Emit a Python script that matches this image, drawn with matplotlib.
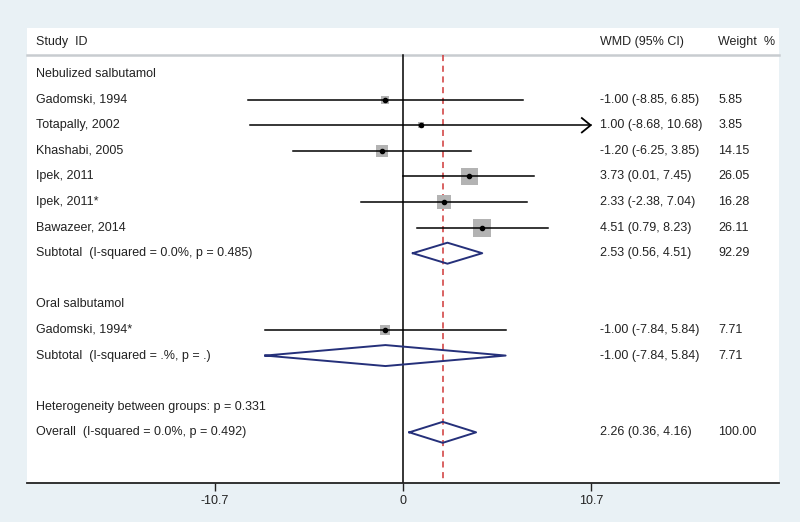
import matplotlib
matplotlib.use("Agg")
import matplotlib.pyplot as plt
from matplotlib.transforms import blended_transform_factory

plt.rcParams['font.family'] = ['Liberation Sans', 'DejaVu Sans']

# data
neb_studies = ["Gadomski, 1994", "Totapally, 2002", "Khashabi, 2005",
               "Ipek, 2011", "Ipek, 2011*", "Bawazeer, 2014"]
neb_wmd = [-1.00, 1.00, -1.20, 3.73, 2.33, 4.51]
neb_lo = [-8.85, -8.68, -6.25, 0.01, -2.38, 0.79]
neb_hi = [6.85, 10.68, 3.85, 7.45, 7.04, 8.23]
neb_weight = [5.85, 3.85, 14.15, 26.05, 16.28, 26.11]
neb_sub = (2.53, 0.56, 4.51, 92.29)
neb_sub_label = "Subtotal  (I-squared = 0.0%, p = 0.485)"

oral_studies = ["Gadomski, 1994*"]
oral_wmd = [-1.00]
oral_lo = [-7.84]
oral_hi = [5.84]
oral_weight = [7.71]
oral_sub = (-1.00, -7.84, 5.84, 7.71)
oral_sub_label = "Subtotal  (I-squared = .%, p = .)"

het_label = "Heterogeneity between groups: p = 0.331"
overall = (2.26, 0.36, 4.16, 100.00)
overall_label = "Overall  (I-squared = 0.0%, p = 0.492)"

xticks = [-10.7, 0, 10.7]
xlim = 21.4
clip = 10.6   # CIs reaching past this get an arrow

bg = "#e9f1f5"
txt = "#222222"
navy = "#25307a"
red = "#d03838"

fig = plt.figure(figsize=(8, 5.22), dpi=100, facecolor=bg)
ax = fig.add_axes([27/800, 1-483/522, 752/800, 455/522])
ax.set_facecolor("white")
ax.set_xlim(-xlim, xlim)
ax.set_ylim(15.98, -1.8)
for s in ["top", "left", "right"]:
    ax.spines[s].set_visible(False)
ax.spines["bottom"].set_color("#222222")
ax.spines["bottom"].set_linewidth(1.3)
ax.set_yticks([])
ax.set_xticks(xticks)
ax.set_xticklabels(["-10.7", "0", "10.7"])
ax.tick_params(axis="x", length=6, width=1, color="#222222", labelsize=9,
               labelcolor=txt, pad=3)

tr = blended_transform_factory(ax.transAxes, ax.transData)
col_lab, col_wmd, col_w = 0.012, 0.762, 0.919
fs = 9

# header
ax.text(col_lab, -1.25, "Study  ID", transform=tr, fontsize=fs, color=txt, va="center")
ax.text(col_wmd, -1.25, "WMD (95% CI)", transform=tr, fontsize=fs, color=txt, va="center")
ax.text(col_w, -1.25, "Weight  %", transform=tr, fontsize=fs, color=txt, va="center")
ax.plot([0, 1], [-0.74, -0.74], transform=tr, color="#c8ccd0", lw=1.8, clip_on=False)

# reference lines
ax.plot([0, 0], [-0.74, 15.98], color="black", lw=1.1, zorder=2)
ax.plot([overall[0], overall[0]], [-0.74, 15.98], color=red, lw=1.1,
        ls=(0, (4, 3)), zorder=2)


def study_row(y, name, m, lo, hi, w):
    ax.text(col_lab, y, name, transform=tr, fontsize=fs, color=txt, va="center")
    ax.text(col_wmd, y, f"{m:.2f} ({lo:.2f}, {hi:.2f})", transform=tr,
            fontsize=fs, color=txt, va="center")
    ax.text(col_w, y, f"{w:.2f}", transform=tr, fontsize=fs, color=txt, va="center")
    side = 17 * (w / 26.05) ** 0.5 * 0.72
    ax.scatter([m], [y], marker="s", s=side ** 2, color="#b3b3b3", lw=0, zorder=3)
    ax.plot([lo, hi], [y, y], color="black", lw=1.1, zorder=4)
    if hi > clip:
        ax.plot([hi - 0.5, hi, hi - 0.5], [y - 0.28, y, y + 0.28],
                color="black", lw=1.3, zorder=4)
    ax.scatter([m], [y], marker="o", s=9, color="black", zorder=5)


def diamond_row(y, name, vals):
    m, lo, hi, w = vals
    ax.text(col_lab, y, name, transform=tr, fontsize=fs, color=txt, va="center")
    ax.text(col_wmd, y, f"{m:.2f} ({lo:.2f}, {hi:.2f})", transform=tr,
            fontsize=fs, color=txt, va="center")
    ax.text(col_w, y, f"{w:.2f}", transform=tr, fontsize=fs, color=txt, va="center")
    h = 0.41
    ax.plot([lo, m, hi, m, lo], [y, y - h, y, y + h, y], color=navy, lw=1.4, zorder=4)


row = 0
ax.text(col_lab, row, "Nebulized salbutamol", transform=tr, fontsize=fs, color=txt, va="center")
for i in range(len(neb_studies)):
    row += 1
    study_row(row, neb_studies[i], neb_wmd[i], neb_lo[i], neb_hi[i], neb_weight[i])
row += 1
diamond_row(row, neb_sub_label, neb_sub)
row += 2
ax.text(col_lab, row, "Oral salbutamol", transform=tr, fontsize=fs, color=txt, va="center")
for i in range(len(oral_studies)):
    row += 1
    study_row(row, oral_studies[i], oral_wmd[i], oral_lo[i], oral_hi[i], oral_weight[i])
row += 1
diamond_row(row, oral_sub_label, oral_sub)
row += 2
ax.text(col_lab, row, het_label, transform=tr, fontsize=fs, color=txt, va="center")
row += 1
diamond_row(row, overall_label, overall)

fig.savefig("out.png", dpi=100, facecolor=bg)
